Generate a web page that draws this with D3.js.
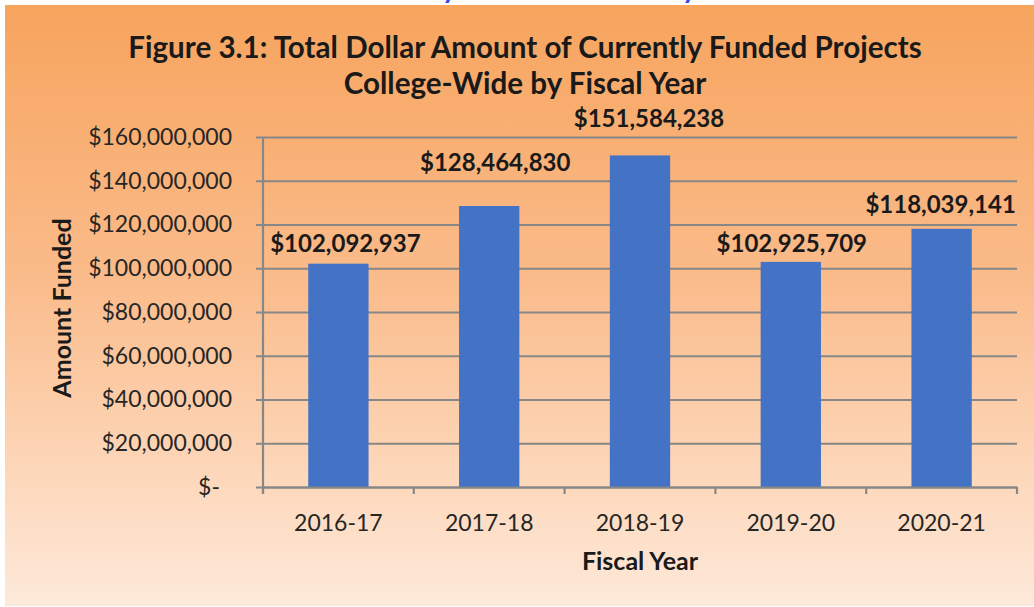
<!DOCTYPE html>
<html>
<head>
<meta charset="utf-8">
<script src="https://cdn.jsdelivr.net/npm/d3@7"></script>
<style>
  html, body { margin: 0; padding: 0; background: #fff; }
  svg { display: block; font-family: Lato, 'Open Sans', sans-serif; }
</style>
</head>
<body>
<script>
const years = ['2016-17', '2017-18', '2018-19', '2019-20', '2020-21'];
const amounts = [102092937, 128464830, 151584238, 102925709, 118039141];
const yTicks = [0, 20000000, 40000000, 60000000, 80000000, 100000000, 120000000, 140000000, 160000000];
const titleLines = ['Figure 3.1: Total Dollar Amount of Currently Funded Projects', 'College-Wide by Fiscal Year'];

// label nudges, pixels (labels were hand placed in the original)
const labelDx = [7, 6, 9, 1, -1];
const labelDy = [-12, -35, -28, -10, -16];

const W = 1034, H = 607;
const margin = { top: 137, left: 263, right: 17, bottom: 120 };
const width = W - margin.left - margin.right;
const height = H - margin.top - margin.bottom;

const svg = d3.select('body').append('svg').attr('width', W).attr('height', H);

const grad = svg.append('defs').append('linearGradient')
  .attr('id', 'bg').attr('x1', 0).attr('y1', 0).attr('x2', 0).attr('y2', 1);
[[0, '#f7a45e'], [0.45, '#fabb8a'], [0.8, '#fdd9bd'], [1, '#fde9da']].forEach(s => {
  grad.append('stop').attr('offset', s[0]).attr('stop-color', s[1]);
});
svg.select('defs').append('clipPath').attr('id', 'topclip')
  .append('rect').attr('x', 0).attr('y', 0).attr('width', W).attr('height', 5);

svg.append('rect').attr('x', 5).attr('y', 5).attr('width', W - 5).attr('height', H - 6).attr('fill', 'url(#bg)');

// bits of blue text cut off by the top edge
const cut = svg.append('g').attr('clip-path', 'url(#topclip)')
  .attr('fill', '#2f4bf0').attr('font-weight', 'bold').attr('font-size', 28);
cut.append('text').attr('x', 442).attr('y', -2).text('y');
cut.append('text').attr('x', 682).attr('y', -2).text('y');

svg.append('g').selectAll('text')
  .data(titleLines)
  .enter().append('text')
    .attr('x', 525)
    .attr('y', (d, i) => 58 + i * 36)
    .attr('text-anchor', 'middle')
    .attr('font-size', 29.6)
    .attr('font-weight', 'bold')
    .attr('fill', '#1a1a1a')
    .text(d => d);

const x = d3.scaleBand().domain(years).range([0, width]).paddingInner(0.6).paddingOuter(0.3);
const y = d3.scaleLinear().domain([0, 160000000]).range([height, 0]);

const chartGroup = svg.append('g').attr('transform', `translate(${margin.left}, ${margin.top})`);

const fmt = d3.format('$,');
const yAxis = d3.axisLeft(y).tickValues(yTicks).tickSize(7).tickPadding(24)
  .tickFormat(d => (d === 0 ? '$-' : fmt(d)));

const yg = chartGroup.append('g').call(yAxis);
yg.select('.domain').remove();
yg.selectAll('.tick line').attr('x2', width).attr('x1', -7)
  .attr('stroke', '#878787').attr('stroke-width', 2.2);
yg.selectAll('.tick text')
  .attr('font-size', 23).attr('fill', '#262626').attr('font-family', 'Lato')
  .attr('dx', d => (d === 0 ? -12 : 0));

chartGroup.selectAll('rect.bar')
  .data(amounts)
  .enter().append('rect')
    .attr('class', 'bar')
    .attr('fill', '#4472c4')
    .attr('x', (d, i) => x(years[i]))
    .attr('width', x.bandwidth())
    .attr('y', d => y(d))
    .attr('height', d => height - y(d));

// axis lines on top of the bars
chartGroup.append('line').attr('x1', 0).attr('x2', 0).attr('y1', 0).attr('y2', height + 7)
  .attr('stroke', '#878787').attr('stroke-width', 2.2);

const xg = chartGroup.append('g').attr('transform', `translate(0, ${height})`)
  .call(d3.axisBottom(x).tickSize(0).tickPadding(28));
xg.select('.domain').attr('stroke', '#878787').attr('stroke-width', 2.2);
xg.selectAll('.tick text').attr('font-size', 23).attr('fill', '#262626').attr('font-family', 'Lato');
xg.selectAll('line.sep')
  .data(d3.range(years.length + 1))
  .enter().append('line')
    .attr('class', 'sep')
    .attr('x1', i => i * x.step()).attr('x2', i => i * x.step())
    .attr('y1', 0).attr('y2', 7)
    .attr('stroke', '#878787').attr('stroke-width', 2.2);

chartGroup.selectAll('text.val')
  .data(amounts)
  .enter().append('text')
    .attr('class', 'val')
    .attr('text-anchor', 'middle')
    .attr('x', (d, i) => x(years[i]) + x.bandwidth() / 2 + labelDx[i])
    .attr('y', (d, i) => y(d) + labelDy[i])
    .attr('font-size', 24)
    .attr('font-weight', 'bold')
    .attr('fill', '#1a1a1a')
    .text(d => fmt(d));

svg.append('text')
  .attr('text-anchor', 'middle')
  .attr('transform', 'translate(71, 308) rotate(-90)')
  .attr('font-size', 25)
  .attr('font-weight', 'bold')
  .attr('fill', '#1a1a1a')
  .text('Amount Funded');

svg.append('text')
  .attr('text-anchor', 'middle')
  .attr('x', 640)
  .attr('y', 570)
  .attr('font-size', 25)
  .attr('font-weight', 'bold')
  .attr('fill', '#1a1a1a')
  .text('Fiscal Year');
</script>
</body>
</html>
